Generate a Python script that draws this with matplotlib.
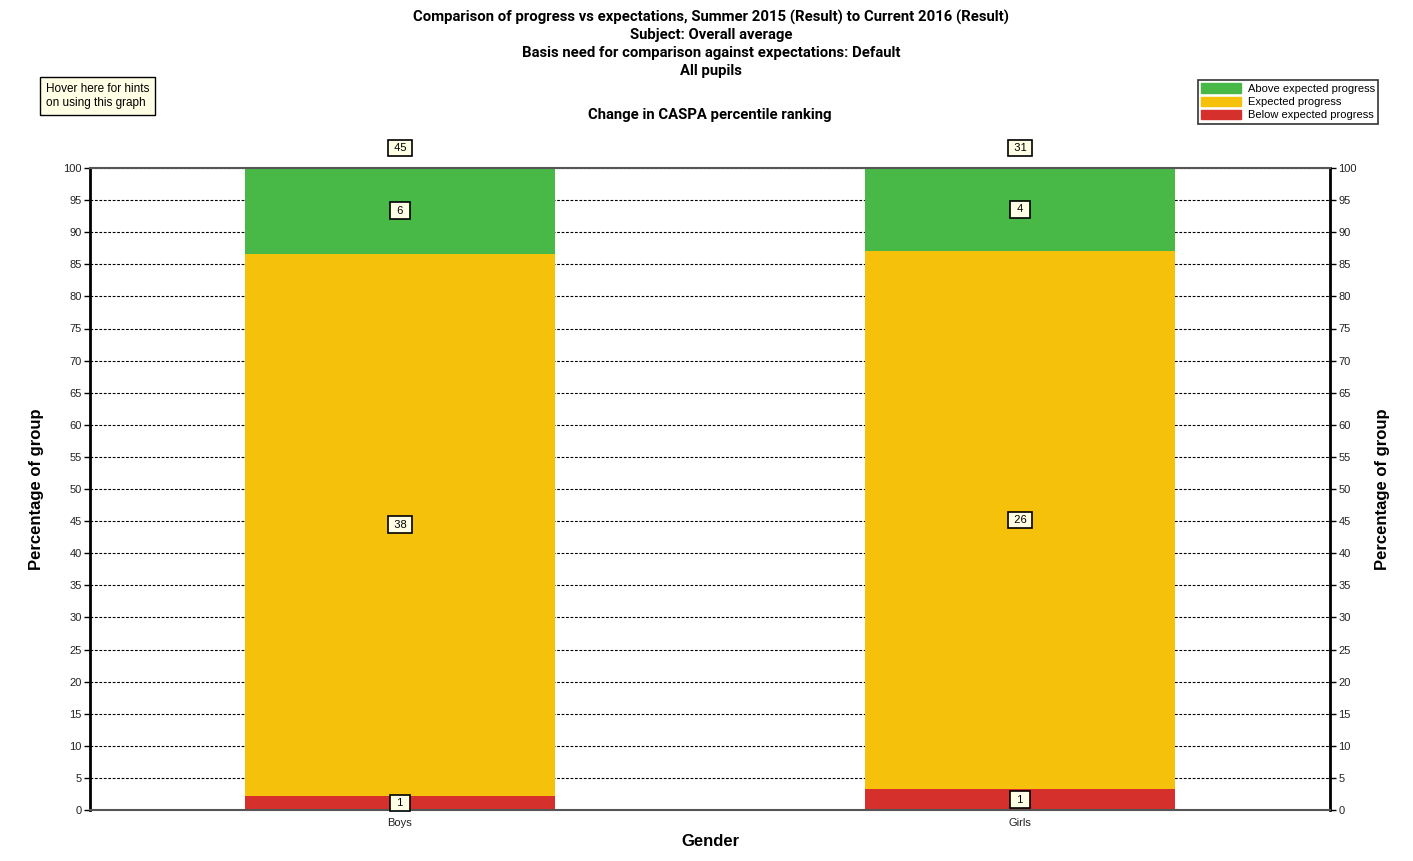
import matplotlib
matplotlib.use("Agg")
import matplotlib.pyplot as plt
from matplotlib import font_manager
from matplotlib.patches import Patch
import numpy as np

# Data
groups = ["Boys", "Girls"]
below = [1, 1]
expected = [38, 26]
above = [6, 4]
series_names = ["Above expected progress", "Expected progress", "Below expected progress"]
colors = {"above": "#48B947", "expected": "#F6C10A", "below": "#D6302D"}
yticks = list(range(0, 101, 5))

title_lines = [
    "Comparison of progress vs expectations, Summer 2015 (Result) to Current 2016 (Result)",
    "Subject: Overall average",
    "Basis need for comparison against expectations: Default",
    "All pupils",
]
subtitle = "Change in CASPA percentile ranking"

available = {f.name for f in font_manager.fontManager.ttflist}
narrow = "Liberation Sans Narrow" if "Liberation Sans Narrow" in available else "Roboto"
small_font = "Liberation Sans" if "Liberation Sans" in available else "DejaVu Sans"

W, H = 1413, 861
fig = plt.figure(figsize=(W / 100, H / 100), dpi=100)
ax = fig.add_axes([90 / W, 1 - 810 / H, 1240 / W, 642 / H])

totals = np.array(below) + np.array(expected) + np.array(above)
pb = np.array(below) / totals * 100
pe = np.array(expected) / totals * 100
pa = np.array(above) / totals * 100
x = np.arange(len(groups))
bw = 0.5

ax.bar(x, pb, bw, color=colors["below"], zorder=2)
ax.bar(x, pe, bw, bottom=pb, color=colors["expected"], zorder=2)
ax.bar(x, pa, bw, bottom=pb + pe, color=colors["above"], zorder=2)

ax.set_xlim(-0.5, 1.5)
ax.set_ylim(0, 100)
ax.set_yticks(yticks)
ax.set_xticks(x)
ax.set_xticklabels(groups, fontsize=8, family=small_font, color="#222222")
ax.tick_params(axis="x", length=0, pad=6)
ax.tick_params(axis="y", labelsize=8, length=4, width=1, direction="out", pad=2,
               left=True, right=True, labelleft=True, labelright=True, colors="black",
               labelcolor="#222222")
for lab in ax.get_yticklabels():
    lab.set_family(small_font)
ax.yaxis.grid(True, linestyle=(0, (2.5, 1.5)), color="black", linewidth=0.8, zorder=1)
ax.set_axisbelow(True)

for side in ["left", "right"]:
    ax.spines[side].set_linewidth(2)
    ax.spines[side].set_color("black")
for side in ["top", "bottom"]:
    ax.spines[side].set_linewidth(1.5)
    ax.spines[side].set_color("#555555")

bbox = dict(boxstyle="square,pad=0.3", fc="#FFFFE6", ec="black", lw=1.2)
lbl_kw = dict(ha="center", va="center", fontsize=8, family=small_font, bbox=bbox, zorder=5)


def boxed(v):
    return "\u2009" + str(v) + "\u2009" if len(str(v)) > 1 else " " + str(v) + " "


for i in range(len(groups)):
    ax.text(x[i], pb[i] / 2, boxed(below[i]), **lbl_kw)
    ax.text(x[i], pb[i] + pe[i] / 2, boxed(expected[i]), **lbl_kw)
    ax.text(x[i], pb[i] + pe[i] + pa[i] / 2, boxed(above[i]), **lbl_kw)
    ax.annotate(boxed(totals[i]), (x[i], 100), xytext=(0, 14.5), textcoords="offset points",
                **lbl_kw, annotation_clip=False)

ax.set_ylabel("Percentage of group", fontsize=12, fontweight="bold", family=small_font, labelpad=14)
fig.text(1383 / W, 1 - 489 / H, "Percentage of group", rotation=90, ha="center", va="center",
         fontsize=12, fontweight="bold", family=small_font)
ax.set_xlabel("Gender", fontsize=12, fontweight="bold", family=small_font, labelpad=4)

for k, line in enumerate(title_lines):
    fig.text(711 / W, 1 - (17 + 18 * k) / H, line, ha="center", va="center",
             fontsize=10.7, fontweight="bold", family=narrow)
fig.text(710 / W, 1 - 115 / H, subtitle, ha="center", va="center",
         fontsize=10.7, fontweight="bold", family=narrow)

# hint box
fig.text(46 / W, 1 - 96 / H, "Hover here for hints\non using this graph", ha="left", va="center",
         fontsize=8.5, family=small_font, linespacing=1.3,
         bbox=dict(boxstyle="square,pad=0.5", fc="#FFFFE6", ec="black", lw=1))

handles = [Patch(color=colors["above"]), Patch(color=colors["expected"]), Patch(color=colors["below"])]
leg = fig.legend(handles, series_names, loc="upper right", bbox_to_anchor=(1378 / W, 1 - 80 / H),
                 fontsize=8, frameon=True, fancybox=False, edgecolor="black",
                 handlelength=3.6, handleheight=0.9, handletextpad=0.6, labelspacing=0.25,
                 borderpad=0.3, borderaxespad=0)
leg.get_frame().set_linewidth(1.2)
for t in leg.get_texts():
    t.set_family(small_font)

fig.savefig("out.png", dpi=100, facecolor="white")
